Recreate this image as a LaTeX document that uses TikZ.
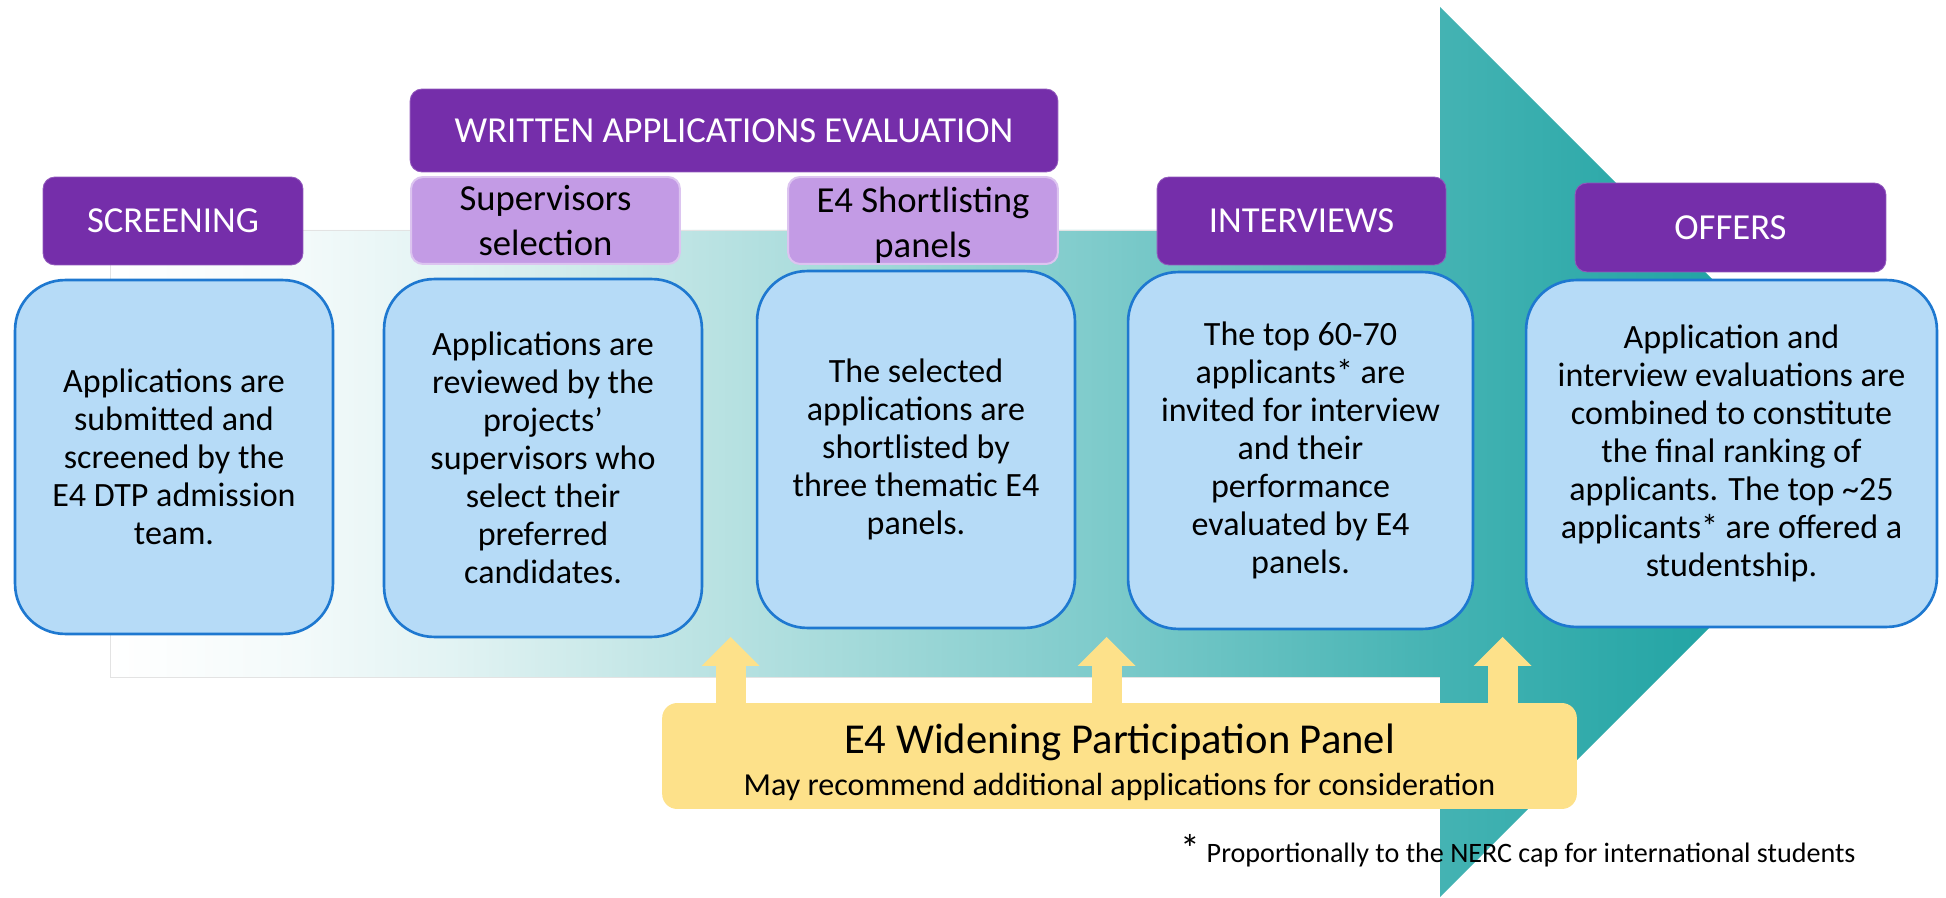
\documentclass[tikz,border=0pt]{standalone}
\usepackage{fontspec}
\setmainfont{Carlito}
\usetikzlibrary{arrows.meta}
\definecolor{hdrpurple}{RGB}{117,46,170}
\definecolor{subpurple}{RGB}{195,155,229}
\definecolor{subedge}{RGB}{220,196,240}
\definecolor{stepblue}{RGB}{182,219,247}
\definecolor{stepedge}{RGB}{30,120,208}
\definecolor{wpyellow}{RGB}{253,225,138}
\definecolor{fadeA}{RGB}{243,250,250}
\definecolor{fadeB}{RGB}{226,243,243}
\definecolor{fadeC}{RGB}{195,230,230}
\definecolor{fadeD}{RGB}{126,203,203}
\definecolor{fadeE}{RGB}{68,179,179}
\definecolor{fadeF}{RGB}{36,165,165}
\definecolor{fadeG}{RGB}{28,160,160}
\pgfdeclarehorizontalshading{arrowfade}{100bp}{color(0bp)=(white); color(25bp)=(white); color(30.35bp)=(fadeA); color(34.58bp)=(fadeB); color(40.21bp)=(fadeC); color(52.89bp)=(fadeD); color(62.46bp)=(fadeE); color(69.79bp)=(fadeF); color(75bp)=(fadeG); color(100bp)=(fadeG)}
\begin{document}
\begin{tikzpicture}[x=0.016cm, y=-0.016cm,
    header/.style={fill=hdrpurple, draw=hdrpurple!80!white, rounded corners=0.19cm, text=white, inner sep=0pt, font=\fontsize{16.7}{20.5}\selectfont},
    subheader/.style={fill=subpurple, draw=subedge, line width=0.9pt, rounded corners=0.19cm, align=center, inner sep=0pt, font=\fontsize{16.7}{20.5}\selectfont},
    stepbox/.style={fill=stepblue, draw=stepedge, line width=1.2pt, rounded corners=0.8cm, align=center, inner sep=0pt, font=\fontsize{15.5}{17.3}\selectfont},
    wparrow/.style={draw=wpyellow, line width=0.48cm, shorten <=-2pt, -{Triangle[width=0.928cm, length=0.464cm, line width=0pt]}}]
  \useasboundingbox (0,0) rectangle (1946,898);
  \shade[shading=arrowfade] (110,230) -- (1440,230) -- (1440,7) -- (1885,452) -- (1440,897) -- (1440,677) -- (110,677) -- cycle;
  \draw[gray!22] (1440,230) -- (110,230) -- (110,677) -- (1440,677);

  \node[header, minimum width=4.16cm, minimum height=1.408cm] (screening) at (173,221) {SCREENING};
  \node[header, minimum width=10.368cm, minimum height=1.328cm] (written) at (734,130.5) {WRITTEN APPLICATIONS EVALUATION};
  \node[subheader, minimum width=4.304cm, minimum height=1.392cm] (supsel) at (545.5,220.5) {Supervisors\\selection};
  \node[subheader, minimum width=4.32cm, minimum height=1.392cm] (shortsel) at (923,220.5) {\rule{0pt}{15.6pt}E4 Shortlisting\\panels};
  \node[header, minimum width=4.624cm, minimum height=1.408cm] (interviews) at (1301.5,221) {INTERVIEWS};
  \node[header, minimum width=4.976cm, minimum height=1.424cm] (offers) at (1730.5,227.5) {OFFERS};

  \node[stepbox, minimum width=5.088cm, minimum height=5.664cm] (submit) at (174,457) {Applications are\\submitted and\\screened by the\\E4 DTP admission\\team.};
  \node[stepbox, minimum width=5.088cm, minimum height=5.728cm] (review) at (543,458) {Applications are\\reviewed by the\\projects’\\supervisors who\\select their\\preferred\\candidates.};
  \node[stepbox, minimum width=5.088cm, minimum height=5.712cm] (shortlist) at (916,449.5) {The selected\\applications are\\shortlisted by\\three thematic E4\\panels.};
  \node[stepbox, minimum width=5.52cm, minimum height=5.712cm] (interview) at (1300.5,450.5) {The top 60-70\\applicants* are\\invited for interview\\and their\\performance\\evaluated by E4\\panels.};
  \node[stepbox, minimum width=6.576cm, minimum height=5.552cm] (offer) at (1731.5,453.5) {Application and\\interview evaluations are\\combined to constitute\\the final ranking of\\applicants. The top \textasciitilde25\\applicants* are offered a\\studentship.};

  \node[fill=wpyellow, rounded corners=0.24cm, minimum width=14.64cm, minimum height=1.696cm, align=center, inner sep=0pt, font=\fontsize{14.6}{19}\selectfont] (wp) at (1119.5,756) {\rule{0pt}{19pt}{\fontsize{19.4}{19}\selectfont E4 Widening Participation Panel}\\May recommend additional applications for consideration};
  \coordinate (gap1) at (730.5,637);
  \coordinate (gap2) at (1106.5,637);
  \coordinate (gap3) at (1502.5,637);
  \foreach \g in {gap1,gap2,gap3}
    \draw[wparrow] (wp.north -| \g) -- (\g);

  \node[anchor=base west, inner sep=0pt, font=\fontsize{12.8}{14}\selectfont] (note) at (1180,862) {{\fontsize{18}{18}\selectfont*}\hspace{3pt}Proportionally to the NERC cap for international students};
\end{tikzpicture}
\end{document}
